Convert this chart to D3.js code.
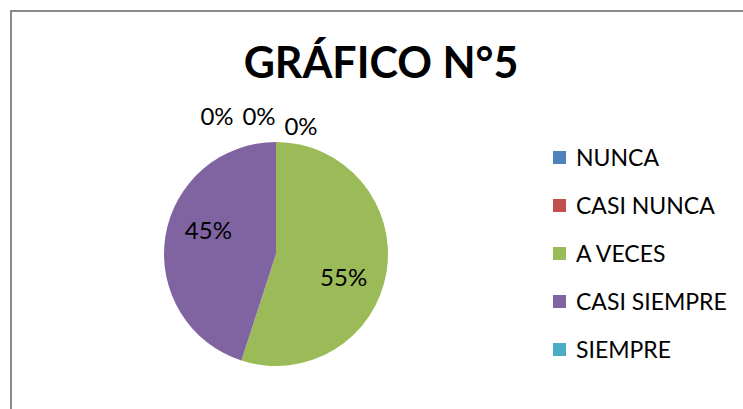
<!DOCTYPE html>
<html>
<head>
<meta charset="utf-8">
<script src="https://cdn.jsdelivr.net/npm/d3@7"></script>
<style>
  body { margin: 0; background: #fff; }
  svg { display: block; }
  text { font-family: Lato, "Open Sans", sans-serif; fill: #000; }
</style>
</head>
<body>
<svg id="chart" width="743" height="409"></svg>
<script>
// données du gráfico
const categorias = ["NUNCA", "CASI NUNCA", "A VECES", "CASI SIEMPRE", "SIEMPRE"];
const valores = [0, 0, 55, 45, 0];
const colores = ["#4F81BD", "#C0504D", "#9BBB59", "#8064A2", "#4BACC6"];
const titulo = "GRÁFICO N°5";

const width = 743, height = 409;
const svg = d3.select("#chart");

// cadre gris (sort du cadre à droite et en bas)
svg.append("rect")
    .attr("x", 11)
    .attr("y", 11)
    .attr("width", width + 20)
    .attr("height", height + 20)
    .attr("fill", "none")
    .attr("stroke", "#8a8a8a")
    .attr("stroke-width", 2);

svg.append("text")
    .attr("x", 381)
    .attr("y", 78)
    .attr("text-anchor", "middle")
    .attr("font-size", 43)
    .attr("font-weight", "bold")
    .text(titulo);

// Pie
const cx = 276, cy = 254, r = 112;
const g = svg.append("g").attr("transform", `translate(${cx},${cy})`);

const total = d3.sum(valores);
const pie = d3.pie().sort(null).value(d => d.v);
const data = categorias.map((c, i) => ({ c: c, v: valores[i], color: colores[i] }));
const arcs = pie(data);

const arc = d3.arc().innerRadius(0).outerRadius(r);
const labelArc = d3.arc().innerRadius(r * 0.64).outerRadius(r * 0.64);
const outerArc = d3.arc().innerRadius(r + 25).outerRadius(r + 25);
const giro = 0.18; // Excel décale un peu les étiquettes dans le sens horaire

g.selectAll("path")
    .data(arcs.filter(d => d.data.v > 0))
    .enter()
    .append("path")
    .attr("d", arc)
    .attr("fill", d => d.data.color);

const pct = d => Math.round(100 * d.data.v / total) + "%";

g.selectAll("text.lbl")
    .data(arcs.filter(d => d.data.v > 0))
    .enter()
    .append("text")
    .attr("class", "lbl")
    .attr("transform", d => {
        const p = labelArc.centroid({ startAngle: d.startAngle + giro, endAngle: d.endAngle + giro });
        return `translate(${p})`;
    })
    .attr("text-anchor", "middle")
    .attr("dy", "0.35em")
    .attr("font-size", 24)
    .text(pct);

// étiquettes 0% : poussées vers la gauche pour ne pas se chevaucher
const ceros = arcs.filter(d => d.data.v === 0);
g.selectAll("text.cero")
    .data(ceros)
    .enter()
    .append("text")
    .attr("class", "cero")
    .attr("transform", (d, j) => {
        const p = outerArc.centroid(d);
        const dx = (j - 1) * 42 - 17;
        const dy = j === ceros.length - 1 ? 10 : 0;
        return `translate(${p[0] + dx},${p[1] + dy})`;
    })
    .attr("text-anchor", "middle")
    .attr("dy", "0.35em")
    .attr("font-size", 24)
    .text(pct);

// Légende
const legend = svg.append("g").attr("transform", "translate(553,158)");
const item = legend.selectAll("g")
    .data(data)
    .enter()
    .append("g")
    .attr("transform", (d, i) => `translate(0,${i * 48})`);

item.append("rect")
    .attr("x", 0)
    .attr("y", -7)
    .attr("width", 13)
    .attr("height", 13)
    .attr("fill", d => d.color);

item.append("text")
    .attr("x", 23)
    .attr("dy", "0.35em")
    .attr("font-size", 23)
    .text(d => d.c);
</script>
</body>
</html>
